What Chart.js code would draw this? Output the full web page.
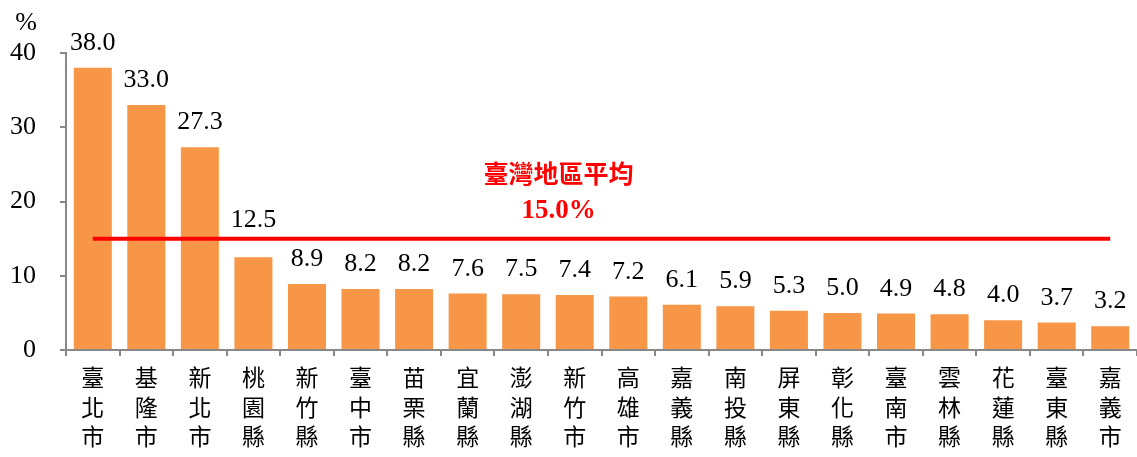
<!DOCTYPE html>
<html>
<head>
<meta charset="utf-8">
<script src="https://cdn.jsdelivr.net/npm/chart.js@4"></script>
<style>
  html,body{margin:0;padding:0;background:#fff;}
  #wrap{width:1137px;height:457px;position:relative;}
</style>
</head>
<body>
<div id="wrap"><canvas id="rateChart"></canvas></div>
<script>
// ===== data =====
const regions = ["臺北市","基隆市","新北市","桃園縣","新竹縣","臺中市","苗栗縣","宜蘭縣","澎湖縣","新竹市",
  "高雄市","嘉義縣","南投縣","屏東縣","彰化縣","臺南市","雲林縣","花蓮縣","臺東縣","嘉義市"];
const rates = [38.0,33.0,27.3,12.5,8.9,8.2,8.2,7.6,7.5,7.4,7.2,6.1,5.9,5.3,5.0,4.9,4.8,4.0,3.7,3.2];
const avgRate = 15.0;
const avgTitle = "臺灣地區平均";
const yTicks = [0,10,20,30,40];

const serif = "'Liberation Serif','Times New Roman',serif";
const cjk = "'Noto Sans CJK TC','Noto Sans CJK SC',sans-serif";

// value labels + average text + % unit
const labelPlugin = {
  id:"labels",
  afterDatasetsDraw(chart){
    const ctx = chart.ctx;
    const meta = chart.getDatasetMeta(0);
    const lineY = chart.scales.y.getPixelForValue(avgRate);
    ctx.save();
    ctx.fillStyle = "#000";
    ctx.font = "26px " + serif;
    ctx.textAlign = "center";
    ctx.textBaseline = "alphabetic";
    meta.data.forEach((bar,i)=>{
      let y = bar.y - 18;
      // label would cross the average line -> lift it above
      if (y > lineY - 24 && y < lineY + 24) y = lineY - 12;
      ctx.fillText(rates[i].toFixed(1), bar.x, y);
    });

    ctx.font = "26px " + serif;
    ctx.fillText("%", 26, 30);

    const x = chart.scales.x;
    const cx = (x.getPixelForValue(9) + x.getPixelForValue(10)) / 2 - 43;
    ctx.fillStyle = "#ff0000";
    ctx.font = "bold 25px " + cjk;
    ctx.textBaseline = "middle";
    ctx.fillText(avgTitle, cx, 173);
    ctx.font = "bold 27px " + serif;
    ctx.fillText(avgRate.toFixed(1) + "%", cx, 211);
    ctx.restore();
  }
};

new Chart(document.getElementById("rateChart"),{
  data:{
    labels: regions.map(r => r.split("")),
    datasets:[
      {type:"bar", data:rates, backgroundColor:"#f79646", borderWidth:0,
       barPercentage:0.71, categoryPercentage:1, order:2},
      {type:"line", data:regions.map(()=>avgRate), borderColor:"#ff0000", borderWidth:4,
       pointRadius:0, fill:false, order:1}
    ]
  },
  options:{
    responsive:true, maintainAspectRatio:false, animation:false,
    layout:{padding:{top:53,right:0,left:0,bottom:0}},
    plugins:{legend:{display:false}, tooltip:{enabled:false}},
    scales:{
      x:{
        grid:{offset:true, drawOnChartArea:false, drawTicks:true, tickLength:6, color:"#888", lineWidth:2},
        border:{color:"#888", width:2},
        ticks:{color:"#000", font:{family:cjk, size:23, lineHeight:1.3}, padding:6, maxRotation:0, autoSkip:false},
        afterFit(s){ s.height = 107; }
      },
      y:{
        min:0, max:40,
        afterBuildTicks(s){ s.ticks = yTicks.map(v=>({value:v})); },
        grid:{drawOnChartArea:false, drawTicks:true, tickLength:6, color:"#888", lineWidth:2},
        border:{color:"#888", width:2},
        ticks:{color:"#000", font:{family:serif, size:26}, padding:24},
        afterFit(s){ s.width = 66; }
      }
    }
  },
  plugins:[labelPlugin]
});
</script>
</body>
</html>
